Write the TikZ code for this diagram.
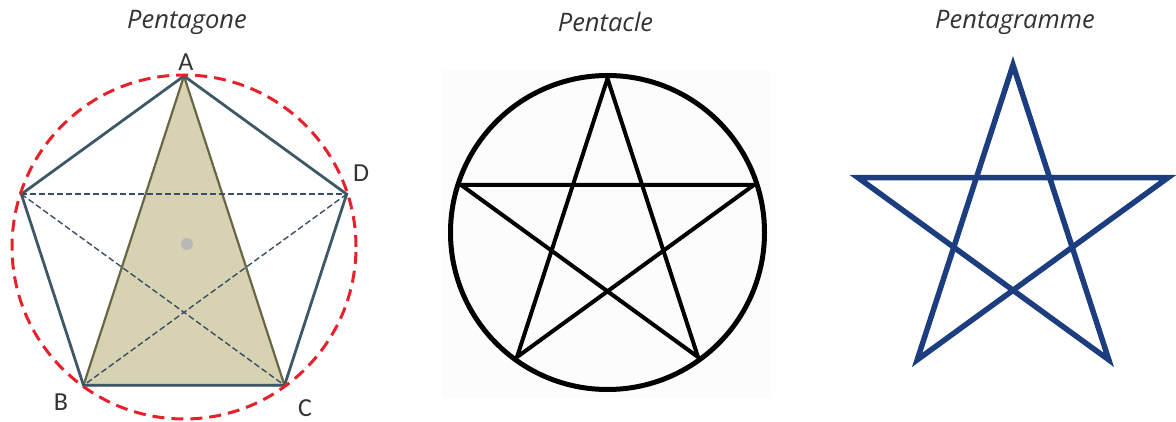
\documentclass[tikz,border=0pt]{standalone}
\usepackage{fontspec}
\setmainfont{Carlito}
\newfontfamily\titlefont{Open Sans}
\usetikzlibrary{calc}
\definecolor{slateline}{RGB}{62,88,102}
\definecolor{dashslate}{RGB}{58,78,102}
\definecolor{circlered}{RGB}{232,32,42}
\definecolor{khakifill}{RGB}{214,210,178}
\definecolor{olivedraw}{RGB}{105,102,70}
\definecolor{starblue}{RGB}{28,62,128}
\definecolor{titlegray}{RGB}{51,51,51}

\begin{document}
\begin{tikzpicture}[x=1pt,y=1pt,
    title/.style={font=\titlefont\itshape\fontsize{25.5}{28}\selectfont,text=titlegray},
    vlabel/.style={font=\fontsize{26}{28}\selectfont,text=titlegray,inner sep=0pt},
    side/.style={draw=slateline,line width=2.8pt,line join=miter},
    diag/.style={draw=dashslate,line width=1.4pt,dash pattern=on 6pt off 3pt},
    circum/.style={draw=circlered,line width=3pt,dash pattern=on 12pt off 7pt}]
  \useasboundingbox (0,0) rectangle (1176,421);
  \begin{scope}[xshift=184pt,yshift=174pt]
    \node[title] (t1) at (3,225) {Pentagone};
    \coordinate (o) at (0,0);
    \coordinate (A) at (90:171); \coordinate (D) at (18:171);
    \coordinate (C) at (-54:171); \coordinate (B) at (-126:171);
    \coordinate (E) at (162:171);
    \filldraw[fill=khakifill,draw=olivedraw,line width=2.2pt,line join=round] (A)--(B)--(C)--cycle;
    \draw[side] (A)--(D)--(C)--(B)--(E)--cycle;
    \draw[diag] (E)--(D);
    \draw[diag] (E)--(C);
    \draw[diag] (D)--(B);
    \fill[black!28] (3,3) circle (6);
    \draw[circum] (o) circle (172);
    \node[vlabel] (lA) at (2,185) {A};
    \node[vlabel] (lD) at (177,74) {D};
    \node[vlabel] (lB) at (-123,-155) {B};
    \node[vlabel] (lC) at (121,-161) {C};
  \end{scope}
  \begin{scope}[xshift=607.5pt,yshift=188.5pt]
    \node[title] (t2) at (-2,210.5) {Pentacle};
    \fill[black!1] (-165.5,-165.5) rectangle (163.5,162.5);
    \coordinate (c) at (0,0);
    \foreach \i in {0,...,4}
      \coordinate (p\i) at (90+72*\i:154);
    \draw[line width=4pt,line join=round] (p0)--(p2)--(p4)--(p1)--(p3)--cycle;
    \draw[line width=5pt] (c) circle (157);
  \end{scope}
  \begin{scope}[xshift=1013pt,yshift=193pt]
    \node[title] (t3) at (2,206) {Pentagramme};
    \foreach \i in {0,...,4}
      \coordinate (s\i) at (90+72*\i:163);
    \draw[starblue,line width=5.5pt,line join=miter] (s0)--(s2)--(s4)--(s1)--(s3)--cycle;
  \end{scope}
\end{tikzpicture}
\end{document}
